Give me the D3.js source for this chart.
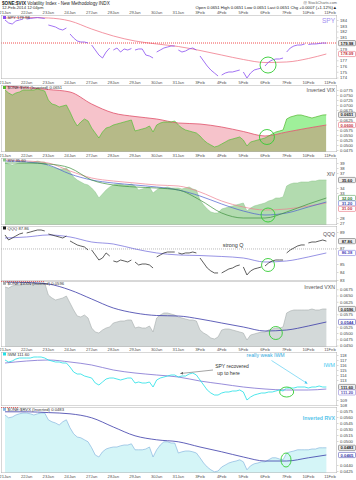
<!DOCTYPE html>
<html><head><meta charset="utf-8">
<script src="https://cdn.jsdelivr.net/npm/d3@7"></script>
<style>
body{margin:0;background:#fff}
svg{display:block}
text{font-family:"Liberation Sans",Arial,sans-serif}
</style>
</head><body>
<svg id="c" width="356" height="480"></svg>
<script>
// ---------------- DATA ----------------
const dayLabels = ["21Jan","22Jan","23Jan","24Jan","27Jan","28Jan","29Jan","30Jan","31Jan","3Feb","4Feb","5Feb","6Feb","7Feb","10Feb","11Feb"];
const PER_DAY = 6;
const maTimes = [0,1,2,3,4,5,6,7,8,9,10,11,12,13,14,14.83];

const spy = [184.00,183.48,183.30,183.83,184.00,184.17, 184.17,184.26,184.35,184.43,184.35,184.26,
 183.13,182.96,182.78,182.43,182.26,182.61, 181.57,180.87,180.35,180.17,180.17,180.00,
 179.65,178.78,177.91,177.39,178.43,179.13, 178.78,179.13,178.43,178.96,178.78,179.04,
 178.78,178.96,178.96,177.91,177.74,177.39, 178.43,178.78,179.13,179.30,179.48,179.48,
 178.78,178.43,178.61,178.96,179.13,178.78, 177.74,176.87,176.00,175.30,174.78,174.26,
 174.43,174.78,174.96,174.96,175.13,175.30, 174.96,173.91,174.78,175.30,175.48,175.65,
 176.00,176.70,177.04,177.22,177.22,177.39, 178.43,179.13,179.48,179.65,179.65,179.83,
 179.74,179.83,179.83,179.91,180.00,179.98];
const spyMA = [184.35,184.43,184.35,183.83,182.43,181.22,180.35,179.83,179.39,178.70,177.91,177.13,176.61,176.70,177.30,178.09];
const spyTicks = [174,175,176,177,178,179,180,181,182,183,184];

const vixInv = [0.0775,0.0760,0.0750,0.0760,0.0765,0.0775, 0.0775,0.0775,0.0775,0.0780,0.0775,0.0770,
 0.0725,0.0705,0.0700,0.0690,0.0695,0.0700, 0.0665,0.0625,0.0595,0.0615,0.0630,0.0620,
 0.0585,0.0560,0.0535,0.0565,0.0585,0.0590, 0.0600,0.0605,0.0610,0.0615,0.0620,0.0625,
 0.0570,0.0575,0.0580,0.0585,0.0595,0.0565, 0.0600,0.0610,0.0615,0.0615,0.0615,0.0620,
 0.0600,0.0585,0.0575,0.0570,0.0565,0.0560, 0.0545,0.0525,0.0510,0.0500,0.0490,0.0495,
 0.0505,0.0515,0.0525,0.0530,0.0535,0.0540, 0.0525,0.0495,0.0515,0.0520,0.0525,0.0530,
 0.0535,0.0545,0.0555,0.0565,0.0570,0.0575, 0.0630,0.0640,0.0645,0.0650,0.0650,0.0645,
 0.0640,0.0635,0.0640,0.0645,0.0650,0.0651];
const vixMA = [0.0795,0.07875,0.07775,0.0765,0.0705,0.0660,0.06425,0.0630,0.0610,0.0605,0.0590,0.05675,0.0545,0.0565,0.0585,0.0600];
const vixTicks = [0.0475,0.0500,0.0525,0.0550,0.0575,0.0600,0.0625,0.0650,0.0675,0.0700,0.0725,0.0750,0.0775,0.0800];

const xiv = [39.0,38.8,38.6,38.8,39.0,39.0, 39.0,39.2,39.2,39.4,39.2,39.2,
 38.4,38.2,38.0,37.8,37.8,38.0, 37.2,36.2,35.6,35.2,34.8,34.6,
 34.0,33.2,32.0,32.8,33.6,34.2, 34.6,34.8,34.8,34.6,34.6,34.8,
 34.4,33.6,33.8,34.0,34.2,33.0, 33.6,34.0,34.0,34.2,34.0,34.0,
 34.0,33.8,34.0,34.2,33.8,33.6, 31.6,30.6,29.8,29.2,29.0,29.0,
 29.8,30.0,30.2,30.4,30.6,30.8, 31.0,29.4,30.0,30.4,30.6,30.8,
 31.0,31.4,31.6,32.0,32.0,32.2, 34.4,34.8,35.0,35.0,35.2,35.2,
 35.2,35.4,35.4,35.6,35.6,35.6];
const xivMAslow = [39.6,39.4,39.0,37.4,36.0,35.4,35.0,34.6,34.4,33.2,31.4,30.2,29.6,29.8,30.4,31.0];
const xivMAmid  = [39.4,39.2,38.6,36.8,35.6,35.0,34.6,34.2,33.6,32.4,30.8,29.4,28.6,29.0,30.2,31.2];
const xivMAfast = [39.0,39.0,38.8,38.0,35.6,34.6,34.2,34.0,33.6,31.6,29.0,28.0,28.0,29.2,30.8,32.0];
const xivTicks = [27,28,29,30,31,32,33,34,35,36,37,38,39];

const qqq = [88.63,88.00,88.25,88.50,88.75,88.88, 88.88,89.00,89.13,89.25,89.25,89.13,
 88.75,88.63,88.50,88.38,88.25,88.50, 87.88,87.63,87.38,87.25,87.13,86.75,
 86.75,86.13,85.50,85.75,86.38,86.00, 85.38,85.25,85.50,85.38,85.25,85.50,
 85.25,84.88,85.00,85.00,84.88,84.50, 85.88,86.13,86.38,86.50,86.50,86.50,
 86.38,86.25,86.38,86.38,86.50,86.38, 85.75,85.13,84.50,84.13,83.88,83.88,
 83.88,84.13,84.38,84.50,84.75,84.88, 84.63,83.63,84.13,84.38,84.50,84.63,
 84.75,85.13,85.38,85.50,85.50,85.50, 86.38,86.75,87.00,87.25,87.38,87.38,
 87.63,87.75,87.75,87.88,88.00,87.86];
const qqqMA = [88.25,88.38,88.63,88.38,87.75,87.50,86.88,86.38,86.13,86.06,85.94,85.75,85.25,85.38,85.88,86.38];
const qqqLevel = 86.88;
const qqqTicks = [83,84,85,86,87,88,89];

const vxnInv = [0.0684,0.0680,0.0688,0.0692,0.0692,0.0696, 0.0696,0.0696,0.0700,0.0700,0.0700,0.0700,
 0.0652,0.0640,0.0632,0.0636,0.0640,0.0648, 0.0620,0.0592,0.0568,0.0564,0.0572,0.0560,
 0.0520,0.0504,0.0500,0.0512,0.0520,0.0524, 0.0540,0.0544,0.0548,0.0548,0.0552,0.0552,
 0.0520,0.0524,0.0520,0.0520,0.0528,0.0504, 0.0560,0.0572,0.0580,0.0580,0.0576,0.0572,
 0.0564,0.0560,0.0556,0.0552,0.0552,0.0548, 0.0512,0.0500,0.0492,0.0480,0.0476,0.0484,
 0.0512,0.0516,0.0516,0.0512,0.0508,0.0504, 0.0500,0.0472,0.0492,0.0496,0.0500,0.0504,
 0.0504,0.0512,0.0516,0.0520,0.0520,0.0524, 0.0580,0.0588,0.0592,0.0592,0.0592,0.0592,
 0.0592,0.0596,0.0592,0.0592,0.0596,0.0596];
const vxnMA = [0.0704,0.0702,0.0696,0.0672,0.0636,0.0600,0.0580,0.0570,0.0568,0.0556,0.0540,0.0524,0.0508,0.0512,0.0528,0.0544];
const vxnTicks = [0.0450,0.0475,0.0500,0.0525,0.0550,0.0575,0.0600,0.0625,0.0650,0.0675,0.0700];

const iwm = [117.0,116.6,116.8,117.2,117.4,117.4, 117.4,117.4,117.6,117.6,117.6,117.4,
 117.0,116.8,116.6,116.6,116.4,116.4, 115.6,114.6,114.2,114.2,113.8,113.6,
 113.4,112.4,112.0,112.6,113.2,113.4, 113.4,113.2,113.0,113.2,113.4,113.4,
 112.4,112.6,112.4,112.4,112.6,111.6, 113.0,113.4,113.6,113.8,114.0,114.0,
 113.6,113.8,113.8,114.2,114.4,114.0, 113.0,112.0,111.0,110.4,110.0,110.0,
 110.4,110.6,110.6,110.8,110.8,111.0, 110.6,109.0,109.6,110.0,110.2,110.4,
 110.4,110.6,110.6,110.8,111.0,110.8, 111.4,111.4,111.4,111.6,111.6,111.6,
 111.4,111.6,111.6,111.8,111.6,111.6];
const iwmMA = [116.4,116.8,117.0,116.6,116.0,115.0,114.4,114.0,113.6,112.8,112.2,111.6,111.2,111.0,111.0,111.2];
const iwmTicks = [108,109,110,111,112,113,114,115,116,117,118];

const rvxInv = [0.0565,0.0558,0.0560,0.0565,0.0568,0.0570, 0.0570,0.0568,0.0565,0.0568,0.0570,0.0570,
 0.0553,0.0548,0.0545,0.0540,0.0548,0.0553, 0.0533,0.0518,0.0510,0.0508,0.0503,0.0498,
 0.0483,0.0465,0.0460,0.0473,0.0480,0.0483, 0.0485,0.0485,0.0488,0.0490,0.0490,0.0493,
 0.0478,0.0478,0.0478,0.0480,0.0485,0.0460, 0.0478,0.0490,0.0498,0.0498,0.0495,0.0495,
 0.0470,0.0473,0.0475,0.0475,0.0473,0.0470, 0.0458,0.0445,0.0435,0.0428,0.0423,0.0425,
 0.0435,0.0440,0.0445,0.0448,0.0450,0.0453, 0.0448,0.0428,0.0438,0.0443,0.0445,0.0448,
 0.0448,0.0453,0.0458,0.0458,0.0455,0.0453, 0.0470,0.0473,0.0475,0.0478,0.0478,0.0478,
 0.0478,0.0480,0.0480,0.0483,0.0483,0.0483];
const rvxMA = [0.0573,0.0573,0.0571,0.0568,0.0558,0.0535,0.0513,0.0503,0.0498,0.0485,0.0473,0.0460,0.0450,0.0450,0.0458,0.0465];
const rvxTicks = [0.0425,0.0440,0.0455,0.0470,0.0485,0.0500,0.0515,0.0530,0.0545,0.0560,0.0575];

// crossover markers [t, value]
const spyCross=[12.14,176.17], vixCross=[12.09,0.0540], xivCross=[12.14,28.6], qqqCross=[12.14,84.875],
      vxnCross=[12.5,0.0500], iwmCross=[13.0,110.6], rvxCross=[12.97,0.04525];

// ---------------- LAYOUT ----------------
const svg = d3.select("#c");
const defs = svg.append("defs");
const LEFT = 1, RIGHT = 337;
const x = d3.scaleLinear().domain([0,15]).range([5,330]);
const tOf = i => Math.floor(i/PER_DAY) + (i%PER_DAY)/PER_DAY;
const FS = 4.2;

const P = {
  spy:{top:15,bottom:79,domain:[173.74,184.87]},
  vix:{top:85,bottom:152,domain:[0.0465,0.0800]},
  xiv:{top:158,bottom:225,domain:[26.6,40.0]},
  qqq:{top:226,bottom:281,domain:[82.875,89.75]},
  vxn:{top:281,bottom:347,domain:[0.0444,0.0708]},
  iwm:{top:352,bottom:406,domain:[107.8,118.6]},
  rvx:{top:407,bottom:473,domain:[0.0420,0.0585]}
};
let clipN=0;
function panel(p){
  p.y = d3.scaleLinear().domain(p.domain).range([p.bottom,p.top]);
  p.tags = [];
  const id="pc"+(clipN++);
  defs.append("clipPath").attr("id",id).append("rect").attr("x",LEFT).attr("y",p.top).attr("width",RIGHT-LEFT).attr("height",p.bottom-p.top);
  svg.append("rect").attr("x",LEFT).attr("y",p.top).attr("width",RIGHT-LEFT).attr("height",p.bottom-p.top).attr("fill","#fff");
  p.g = svg.append("g").attr("clip-path",`url(#${id})`);
  return p;
}
function frame(p){
  svg.append("rect").attr("x",LEFT+0.25).attr("y",p.top+0.25).attr("width",RIGHT-LEFT-0.5).attr("height",p.bottom-p.top-0.5)
    .attr("fill","none").attr("stroke","#b0b0b0").attr("stroke-width",0.5);
}
function axisR(p, ticks, fmt){
  const keep = ticks.filter(t=>{
    const yy=p.y(t);
    if (yy < p.top+2 || yy > p.bottom-1) return false;
    return p.tags.every(ty=>Math.abs(ty-yy)>4.6);
  });
  const a = d3.axisRight(p.y).tickValues(keep).tickSize(1.5).tickFormat(fmt);
  const g = svg.append("g").attr("transform",`translate(${RIGHT},0)`).call(a);
  g.select(".domain").remove();
  g.selectAll("text").attr("font-size",FS).attr("fill","#444").attr("x",3).attr("font-family","Liberation Sans, Arial");
  g.selectAll("line").attr("stroke","#999").attr("stroke-width",0.4);
}
function tag(p, v, txt, fill, stroke, col){
  let yy=p.y(v);
  p.tags.forEach(ty=>{ if(Math.abs(ty-yy)<5.4) yy = ty + (yy>=ty?5.4:-5.4); });
  p.tags.push(yy);
  svg.append("rect").attr("x",RIGHT+1.5).attr("y",yy-2.6).attr("width",17).attr("height",5.2)
    .attr("fill",fill).attr("stroke",stroke).attr("stroke-width",0.5).attr("rx",0.8);
  svg.append("text").attr("x",RIGHT+10).attr("y",yy+1.5).attr("text-anchor","middle")
    .attr("font-size",FS).attr("font-weight","bold").attr("fill",col).text(txt);
}
function dates(yy){
  dayLabels.forEach((d,i)=>{
    svg.append("text").attr("x",x(i)).attr("y",yy).attr("text-anchor","middle").attr("font-size",FS).attr("fill","#555").text(d);
  });
}
function seriesPts(vals){ return vals.map((v,i)=>[tOf(i),v]); }
function maPts(vals){ return vals.map((v,i)=>[maTimes[i],v]); }
function dayLine(p, vals, color, w){
  for(let d=0; d*PER_DAY<vals.length; d++){
    const seg = vals.slice(d*PER_DAY,(d+1)*PER_DAY).map((v,j)=>[d+j/PER_DAY,v]);
    p.g.append("path").attr("d",d3.line().x(q=>x(q[0])).y(q=>p.y(q[1]))(seg))
      .attr("fill","none").attr("stroke",color).attr("stroke-width",w).attr("stroke-linejoin","round");
  }
}
function line(p, pts, color, w, smooth){
  const l = d3.line().x(q=>x(q[0])).y(q=>p.y(q[1]));
  if(smooth) l.curve(d3.curveMonotoneX);
  p.g.append("path").attr("d",l(pts)).attr("fill","none").attr("stroke",color).attr("stroke-width",w).attr("stroke-linejoin","round");
}
function areaBelow(p, pts, fill, smooth){
  const a = d3.area().x(q=>x(q[0])).y0(p.bottom).y1(q=>p.y(q[1]));
  if(smooth) a.curve(d3.curveMonotoneX);
  return p.g.append("path").attr("d",a(pts)).attr("fill",fill);
}
function clipArea(p, pts, above, smooth){
  const id="ca"+(clipN++);
  const a = d3.area().x(q=>x(q[0])).y0(above?p.top:p.bottom).y1(q=>p.y(q[1]));
  if(smooth) a.curve(d3.curveMonotoneX);
  defs.append("clipPath").attr("id",id).append("path").attr("d",a(pts));
  return `url(#${id})`;
}
function circ(p, c, rx, ry){
  svg.append("ellipse").attr("cx",x(c[0])).attr("cy",p.y(c[1])).attr("rx",rx).attr("ry",ry||rx)
    .attr("fill","none").attr("stroke","#33cc33").attr("stroke-width",0.9);
}
function legend(p, color, txt, dy){
  const yy = p.top + (dy||4);
  svg.append("rect").attr("x",3).attr("y",yy-3).attr("width",3).attr("height",3).attr("fill",color);
  svg.append("text").attr("x",7.5).attr("y",yy).attr("font-size",FS).attr("fill","#333").text(txt);
}
function rlabel(p, txt, yy, color, fs, bold){
  svg.append("text").attr("x",RIGHT-2).attr("y",yy).attr("text-anchor","end").attr("font-size",fs)
    .attr("fill",color).attr("font-weight",bold?"bold":"normal").text(txt);
}
const f2=d3.format(".2f"), f4=d3.format(".4f");
const last = a => a[a.length-1];

// ---------------- HEADER ----------------
svg.append("text").attr("x",2).attr("y",4.5).attr("font-size",4.6).attr("fill","#222")
  .html('<tspan font-weight="bold">$ONE:$VIX</tspan> Volatility Index - New Methodology  INDX');
svg.append("text").attr("x",2).attr("y",9).attr("font-size",4.2).attr("fill","#333").text("12-Feb-2014 12:04pm");
svg.append("text").attr("x",RIGHT).attr("y",3.5).attr("text-anchor","end").attr("font-size",3.8).attr("fill","#666").text("@ StockCharts.com");
svg.append("text").attr("x",RIGHT).attr("y",8.5).attr("text-anchor","end").attr("font-size",4.2).attr("fill","#222")
  .text("Open 0.0651  High 0.0651  Low 0.0651  Last 0.0651  Chg +0.0007 (+1.12%)▲");
dates(13.5);

// ---------------- PANEL 1: SPY ----------------
const p1 = panel(P.spy);
line(p1, maPts(spyMA), "#f07b8c", 0.8, true);
p1.g.append("line").attr("x1",LEFT).attr("x2",RIGHT).attr("y1",p1.y(180)).attr("y2",p1.y(180))
  .attr("stroke","#ee2222").attr("stroke-width",0.8).attr("stroke-dasharray","1,1");
dayLine(p1, spy, "#8a4ff0", 0.8);
circ(p1, spyCross, 8);
frame(p1);
tag(p1, last(spy), f2(last(spy)), "#eee", "#555", "#222");
tag(p1, last(spyMA), f2(last(spyMA)), "#fff", "#e05060", "#c03040");
axisR(p1, spyTicks, d3.format("d"));
legend(p1, "#8a4ff0", "SPY  "+f2(last(spy)));
rlabel(p1, "SPY", 23, "#a08cf0", 6.5, false);
dates(83.5);

// ---------------- PANEL 2: inverted VIX ----------------
const p2 = panel(P.vix);
{
  const pts=seriesPts(vixInv), m=maPts(vixMA);
  areaBelow(p2, m, "#f6c3cb", true).attr("clip-path", clipArea(p2, pts, true, false));
  areaBelow(p2, pts, "#9ff09a", false).attr("clip-path", clipArea(p2, m, true, true));
  areaBelow(p2, pts, "#b6ba88", false).attr("clip-path", clipArea(p2, m, false, true));
  line(p2, m, "#e0506a", 0.8, true);
  line(p2, pts, "#55b830", 0.7, false);
}
circ(p2, vixCross, 7.5);
frame(p2);
tag(p2, last(vixInv), f4(last(vixInv)), "#eee", "#555", "#222");
tag(p2, last(vixMA), f4(last(vixMA)), "#fff", "#e05060", "#c03040");
axisR(p2, vixTicks, f4);
legend(p2, "#55b830", "$ONE:$VIX (Inverted) "+f4(last(vixInv)));
rlabel(p2, "Inverted VIX", 92, "#555", 5.2, false);
dates(156.5);

// ---------------- PANEL 3: XIV ----------------
const p3 = panel(P.xiv);
areaBelow(p3, seriesPts(xiv), "#b2dbaf", false);
line(p3, seriesPts(xiv), "#8cc48a", 0.5, false);
line(p3, maPts(xivMAslow), "#ee7f90", 0.7, true);
line(p3, maPts(xivMAmid), "#4a5fd0", 0.7, true);
line(p3, maPts(xivMAfast), "#3c8f3c", 0.7, true);
circ(p3, xivCross, 7);
frame(p3);
tag(p3, last(xiv), f2(last(xiv)), "#eee", "#555", "#222");
tag(p3, last(xivMAfast), f2(last(xivMAfast)), "#fff", "#3c8f3c", "#2a7a2a");
tag(p3, last(xivMAmid), f2(last(xivMAmid)), "#fff", "#4a5fd0", "#3344aa");
tag(p3, last(xivMAslow), f2(last(xivMAslow)), "#fff", "#e05060", "#c03040");
axisR(p3, xivTicks, d3.format("d"));
legend(p3, "#8cc48a", "XIV  "+f2(last(xiv)), 3.5);
rlabel(p3, "XIV", 176, "#555", 5.2, false);

// ---------------- PANEL 4: QQQ ----------------
const p4 = panel(P.qqq);
p4.g.append("line").attr("x1",LEFT).attr("x2",RIGHT).attr("y1",p4.y(qqqLevel)).attr("y2",p4.y(qqqLevel))
  .attr("stroke","#777").attr("stroke-width",0.5).attr("stroke-dasharray","1,1");
line(p4, maPts(qqqMA), "#6a64d8", 0.7, true);
dayLine(p4, qqq, "#1a1a1a", 0.7);
circ(p4, qqqCross, 6.5);
frame(p4);
tag(p4, last(qqq), f2(last(qqq)), "#eee", "#555", "#222");
tag(p4, last(qqqMA), f2(last(qqqMA)), "#fff", "#6a64d8", "#4a44b8");
axisR(p4, qqqTicks, d3.format("d"));
legend(p4, "#1a1a1a", "QQQ  "+f2(last(qqq)), 3.5);
rlabel(p4, "QQQ", 236, "#555", 5.2, false);
svg.append("text").attr("x",x(10.05)).attr("y",p4.y(qqqLevel)-2).attr("font-size",5.4).attr("fill","#333").text("strong Q");

// ---------------- PANEL 5: inverted VXN ----------------
const p5 = panel(P.vxn);
areaBelow(p5, seriesPts(vxnInv), "#d3d9d9", false);
line(p5, seriesPts(vxnInv), "#a6acac", 0.6, false);
line(p5, maPts(vxnMA), "#3a3aa8", 0.8, true);
circ(p5, vxnCross, 6.5);
frame(p5);
tag(p5, last(vxnInv), f4(last(vxnInv)), "#eee", "#555", "#222");
tag(p5, last(vxnMA), f4(last(vxnMA)), "#fff", "#3a3aa8", "#3a3aa8");
axisR(p5, vxnTicks, f4);
svg.append("line").attr("x1",LEFT).attr("x2",45).attr("y1",P.vxn.top+0.5).attr("y2",P.vxn.top+0.5)
  .attr("stroke","#ee3333").attr("stroke-width",0.7).attr("stroke-dasharray","1,1");
legend(p5, "#a6acac", "$ONE:$VXN (Inverted) "+f4(last(vxnInv)), 3.8);
rlabel(p5, "Inverted VXN", 289, "#555", 5.2, false);
dates(350.5);

// ---------------- PANEL 6: IWM ----------------
const p6 = panel(P.iwm);
line(p6, maPts(iwmMA), "#7d70d0", 0.8, true);
line(p6, seriesPts(iwm), "#22e0e6", 0.8, false);
circ(p6, iwmCross, 7, 5);
frame(p6);
tag(p6, last(iwm), f2(last(iwm)), "#eee", "#555", "#222");
tag(p6, last(iwmMA), f2(last(iwmMA)), "#fff", "#7d70d0", "#5a4eb0");
axisR(p6, iwmTicks, d3.format("d"));
legend(p6, "#22e0e6", "IWM  "+f2(last(iwm)), 3.5);
rlabel(p6, "IWM", 367, "#44c8f0", 5.6, false);
{
  defs.append("marker").attr("id","ahg").attr("viewBox","0 0 10 10").attr("refX",9).attr("refY",5)
    .attr("markerWidth",5).attr("markerHeight",5).attr("orient","auto")
    .append("path").attr("d","M0,0 L10,5 L0,10 z").attr("fill","#666");
  defs.append("marker").attr("id","ahc").attr("viewBox","0 0 10 10").attr("refX",9).attr("refY",5)
    .attr("markerWidth",5).attr("markerHeight",5).attr("orient","auto")
    .append("path").attr("d","M0,0 L10,5 L0,10 z").attr("fill","#44c8f0");
  svg.append("line").attr("x1",x(9.6)).attr("y1",p6.y(115.0)).attr("x2",x(8.1)).attr("y2",p6.y(114.3))
    .attr("stroke","#666").attr("stroke-width",0.6).attr("marker-end","url(#ahg)");
  svg.append("text").attr("x",x(9.7)).attr("y",p6.y(115.4)).attr("font-size",5).attr("fill","#333").text("SPY recovered");
  svg.append("text").attr("x",x(9.8)).attr("y",p6.y(114.0)).attr("font-size",5).attr("fill","#333").text("up to here");
  svg.append("text").attr("x",x(11.15)).attr("y",p6.y(117.6)).attr("font-size",5.2).attr("fill","#33aadd").text("really weak IWM");
  svg.append("line").attr("x1",x(12.3)).attr("y1",p6.y(116.9)).attr("x2",x(13.95)).attr("y2",p6.y(112.3))
    .attr("stroke","#44c8f0").attr("stroke-width",0.6).attr("marker-end","url(#ahc)");
}

// ---------------- PANEL 7: inverted RVX ----------------
const p7 = panel(P.rvx);
areaBelow(p7, seriesPts(rvxInv), "#d4f5f7", false);
line(p7, seriesPts(rvxInv), "#8ab8e0", 0.7, false);
line(p7, maPts(rvxMA), "#3a3aa8", 0.8, true);
circ(p7, rvxCross, 5, 7);
frame(p7);
tag(p7, last(rvxInv), f4(last(rvxInv)), "#eee", "#555", "#222");
tag(p7, last(rvxMA), f4(last(rvxMA)), "#fff", "#3a3aa8", "#3a3aa8");
axisR(p7, rvxTicks, f4);
svg.append("line").attr("x1",LEFT).attr("x2",18).attr("y1",P.rvx.top+0.5).attr("y2",P.rvx.top+0.5)
  .attr("stroke","#ee3333").attr("stroke-width",0.7).attr("stroke-dasharray","1,1");
legend(p7, "#8ab8e0", "$ONE:$RVX (Inverted) "+f4(last(rvxInv)), 3.8);
rlabel(p7, "Inverted RVX", 420, "#55c4ea", 5.2, true);
dates(477.5);
</script>
</body></html>
